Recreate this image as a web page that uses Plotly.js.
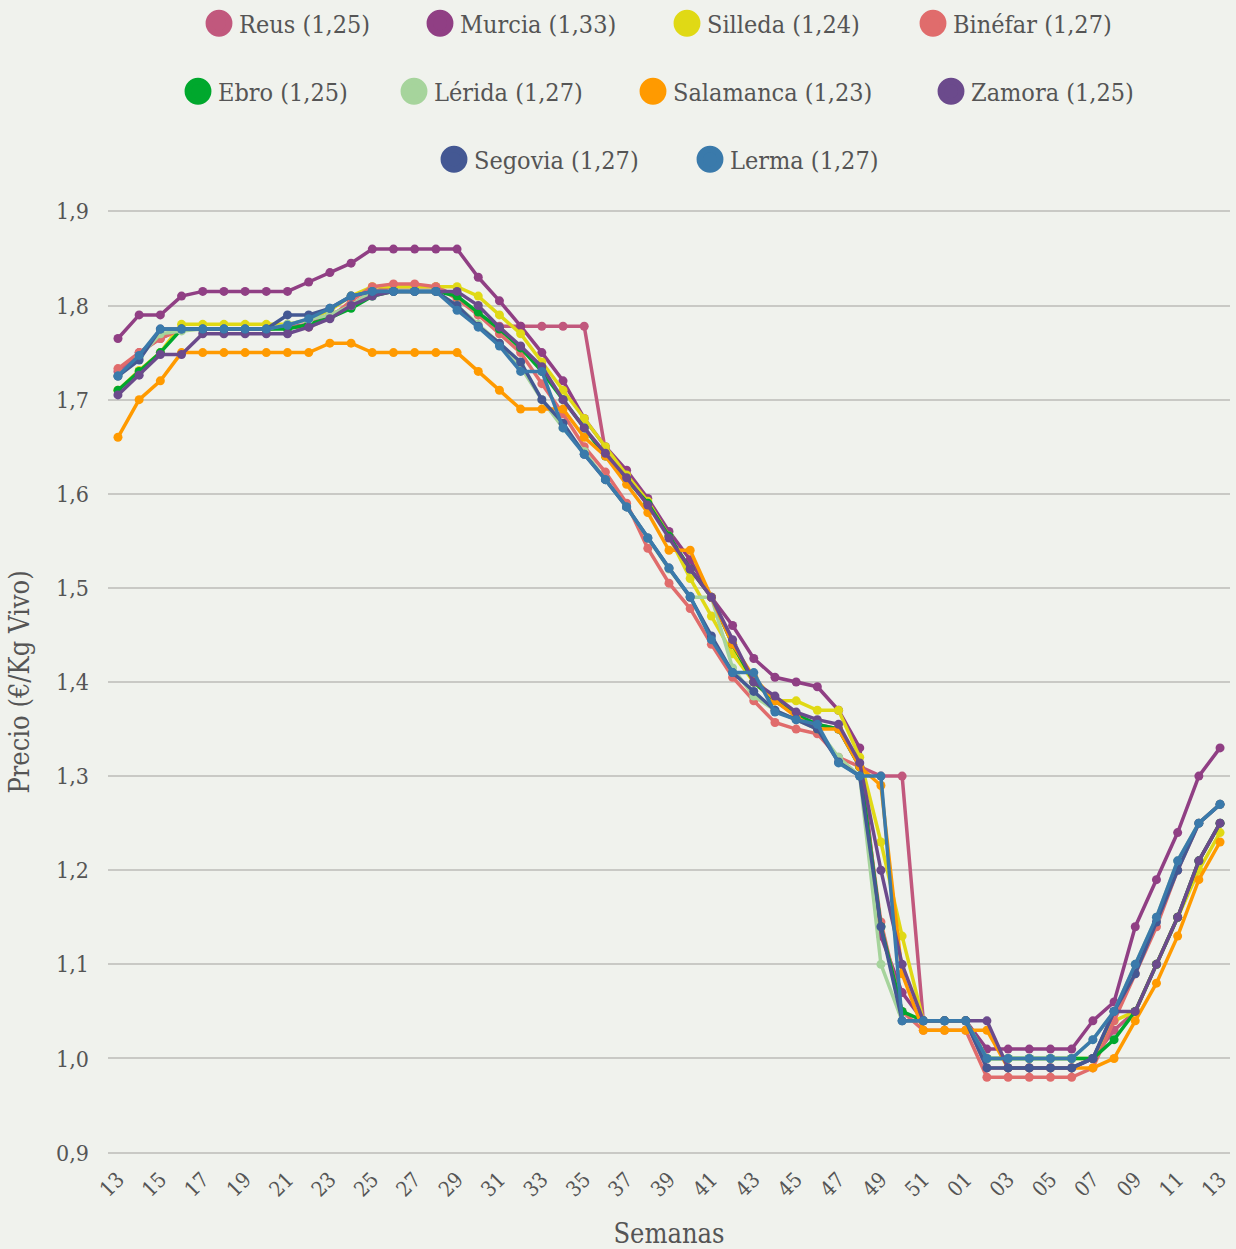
<!DOCTYPE html>
<html><head><meta charset="utf-8">
<script src="https://cdn.plot.ly/plotly-3.0.1.min.js"></script>
<style>html,body{margin:0;padding:0;background:#f0f2ed}</style>
</head><body><div id="chart" style="width:1236px;height:1249px"></div>
<script>
const weeks = ['13','14','15','16','17','18','19','20','21','22','23','24','25','26','27','28','29','30','31','32','33','34','35','36','37','38','39','40','41','42','43','44','45','46','47','48','49','50','51','52','01','02','03','04','05','06','07','08','09','10','11','12','13'];

const reus = [1.73,1.75,1.765,1.775,1.775,1.775,1.775,1.775,1.777,1.78,1.79,1.80,1.815,1.82,1.82,1.82,1.81,1.79,1.778,1.778,1.778,1.778,1.778,1.645,1.62,1.59,1.555,1.52,1.49,1.44,1.40,1.38,1.365,1.355,1.35,1.31,1.30,1.30,1.04,1.04,1.04,0.99,0.99,0.99,0.99,0.99,1.00,1.03,1.05,1.10,1.15,1.21,1.25];
const murcia = [1.765,1.79,1.79,1.81,1.815,1.815,1.815,1.815,1.815,1.825,1.835,1.845,1.86,1.86,1.86,1.86,1.86,1.83,1.805,1.778,1.75,1.72,1.68,1.65,1.625,1.595,1.56,1.53,1.49,1.46,1.425,1.405,1.40,1.395,1.37,1.33,1.13,1.07,1.04,1.04,1.04,1.01,1.01,1.01,1.01,1.01,1.04,1.06,1.14,1.19,1.24,1.30,1.33];
const silleda = [1.71,1.731,1.75,1.78,1.78,1.78,1.78,1.78,1.78,1.785,1.795,1.81,1.82,1.82,1.82,1.82,1.82,1.81,1.79,1.77,1.74,1.71,1.68,1.65,1.62,1.592,1.555,1.51,1.47,1.43,1.40,1.38,1.38,1.37,1.37,1.32,1.23,1.13,1.04,1.04,1.04,1.00,1.00,1.00,1.00,1.00,1.00,1.04,1.05,1.10,1.15,1.20,1.24];
const binefar = [1.733,1.75,1.765,1.775,1.775,1.775,1.775,1.775,1.777,1.777,1.787,1.805,1.82,1.823,1.823,1.82,1.807,1.79,1.77,1.75,1.717,1.685,1.65,1.623,1.59,1.542,1.505,1.478,1.44,1.405,1.38,1.357,1.35,1.345,1.32,1.31,1.145,1.05,1.03,1.03,1.03,0.98,0.98,0.98,0.98,0.98,0.99,1.04,1.09,1.14,1.20,1.25,1.27];
const ebro = [1.71,1.73,1.75,1.775,1.775,1.775,1.775,1.775,1.775,1.78,1.787,1.797,1.81,1.815,1.815,1.815,1.81,1.793,1.775,1.755,1.73,1.70,1.67,1.64,1.615,1.59,1.555,1.52,1.49,1.44,1.40,1.38,1.365,1.355,1.35,1.31,1.14,1.05,1.04,1.04,1.04,1.00,1.00,1.00,1.00,1.00,1.00,1.02,1.05,1.10,1.15,1.21,1.25];
const lerida = [1.725,1.745,1.77,1.773,1.775,1.775,1.775,1.775,1.78,1.785,1.79,1.80,1.815,1.815,1.815,1.815,1.80,1.78,1.76,1.735,1.70,1.67,1.645,1.615,1.586,1.553,1.52,1.49,1.49,1.415,1.385,1.37,1.36,1.35,1.32,1.30,1.10,1.04,1.04,1.04,1.04,1.00,1.00,1.00,1.00,1.00,1.02,1.05,1.10,1.15,1.21,1.25,1.27];
const salamanca = [1.66,1.70,1.72,1.75,1.75,1.75,1.75,1.75,1.75,1.75,1.76,1.76,1.75,1.75,1.75,1.75,1.75,1.73,1.71,1.69,1.69,1.69,1.66,1.64,1.61,1.58,1.54,1.54,1.49,1.44,1.405,1.38,1.363,1.35,1.35,1.31,1.29,1.09,1.03,1.03,1.03,1.03,0.99,0.99,0.99,0.99,0.99,1.00,1.04,1.08,1.13,1.19,1.23];
const zamora = [1.705,1.726,1.748,1.748,1.77,1.77,1.77,1.77,1.77,1.777,1.786,1.80,1.81,1.815,1.815,1.815,1.815,1.80,1.777,1.757,1.735,1.70,1.67,1.643,1.617,1.588,1.553,1.52,1.49,1.445,1.40,1.385,1.368,1.36,1.355,1.314,1.20,1.10,1.04,1.04,1.04,1.04,0.99,0.99,0.99,0.99,1.00,1.05,1.05,1.10,1.15,1.21,1.25];
const segovia = [1.725,1.742,1.775,1.775,1.775,1.775,1.775,1.775,1.79,1.79,1.797,1.81,1.815,1.815,1.815,1.815,1.80,1.778,1.76,1.74,1.70,1.675,1.642,1.615,1.586,1.553,1.521,1.49,1.449,1.41,1.39,1.37,1.36,1.35,1.315,1.30,1.14,1.04,1.04,1.04,1.04,0.99,0.99,0.99,0.99,0.99,1.00,1.05,1.09,1.145,1.20,1.25,1.27];
const lerma = [1.725,1.747,1.775,1.775,1.775,1.775,1.775,1.775,1.779,1.786,1.797,1.81,1.815,1.815,1.815,1.815,1.795,1.777,1.757,1.73,1.73,1.67,1.642,1.615,1.586,1.553,1.521,1.491,1.445,1.41,1.41,1.368,1.36,1.355,1.314,1.30,1.30,1.04,1.04,1.04,1.04,1.00,1.00,1.00,1.00,1.00,1.02,1.05,1.10,1.15,1.21,1.25,1.27];

const seriesNames = ['Reus (1,25)','Murcia (1,33)','Silleda (1,24)','Binéfar (1,27)','Ebro (1,25)','Lérida (1,27)','Salamanca (1,23)','Zamora (1,25)','Segovia (1,27)','Lerma (1,27)'];
const seriesValues = [reus, murcia, silleda, binefar, ebro, lerida, salamanca, zamora, segovia, lerma];
const seriesColors = ['#c1587d','#903f84','#e0d915','#e06c6c','#00a82d','#a6d49c','#ff9a00','#6b4a8c','#445893','#3a7aab'];

// legend entry placement (pixels from page left, row centre in pixels from top)
const legendLeftPx = [199, 420, 667, 913, 178, 394, 633, 931, 434, 690];
const legendRowPx = [23.5, 23.5, 23.5, 23.5, 91.5, 91.5, 91.5, 91.5, 159.5, 159.5];

const FONT = "'DejaVu Serif Condensed', 'DejaVu Serif', serif";
const W = 1236, H = 1249, ML = 108, MR = 6, MT = 202, MB = 87;
const plotW = W - ML - MR, plotH = H - MT - MB;

const xIdx = weeks.map((w, i) => i);
const tickIdx = xIdx.filter(i => i % 2 === 0);
const tickTxt = tickIdx.map(i => weeks[i]);

const traces = [];
seriesValues.forEach((vals, k) => {
  traces.push({
    type: 'scatter', mode: 'lines+markers', x: xIdx, y: vals, name: seriesNames[k],
    line: {color: seriesColors[k], width: 3.5},
    marker: {color: seriesColors[k], size: 9},
    showlegend: false, hoverinfo: 'x+y+name'
  });
});
seriesValues.forEach((vals, k) => {
  traces.push({
    type: 'scatter', mode: 'markers', x: [null], y: [null], name: seriesNames[k],
    marker: {color: seriesColors[k], size: 16, line: {color: seriesColors[k], width: 5}},
    legend: k === 0 ? 'legend' : 'legend' + (k + 1), showlegend: true
  });
});

const layout = {
  width: W, height: H,
  paper_bgcolor: '#f0f2ed', plot_bgcolor: '#f0f2ed',
  separators: ',.',
  margin: {l: ML, r: MR, t: MT, b: MB, autoexpand: false},
  font: {family: FONT, color: '#555555'},
  xaxis: {
    range: [-0.47, 52.47], tickmode: 'array', tickvals: tickIdx, ticktext: tickTxt,
    tickangle: -45, showgrid: false, zeroline: false, showline: false,
    tickfont: {family: FONT, size: 21, color: '#555555'},
    title: {text: 'Semanas', font: {family: FONT, size: 27, color: '#555555'}, standoff: 23}
  },
  yaxis: {
    range: [0.89, 1.91], tickmode: 'linear', tick0: 0.9, dtick: 0.1, tickformat: '.1f',
    showgrid: true, gridcolor: '#c9c9c5', gridwidth: 2, zeroline: false, showline: false,
    ticklabelstandoff: 18,
    tickfont: {family: FONT, size: 23, color: '#555555'},
    title: {text: 'Precio (€/Kg Vivo)', font: {family: FONT, size: 27, color: '#555555'}, standoff: 18}
  },
  showlegend: true
};
seriesNames.forEach((n, k) => {
  const key = k === 0 ? 'legend' : 'legend' + (k + 1);
  layout[key] = {
    orientation: 'h', xanchor: 'left', yanchor: 'middle',
    x: (legendLeftPx[k] - ML) / plotW,
    y: (H - MB - legendRowPx[k]) / plotH,
    font: {family: FONT, size: 25, color: '#555555'},
    bgcolor: 'rgba(0,0,0,0)', itemsizing: 'trace'
  };
});

Plotly.newPlot('chart', traces, layout, {displayModeBar: false, responsive: false}).then(gd => {
  gd.querySelectorAll('.legendpoints path.scatterpts').forEach(p => {
    const t = p.getAttribute('transform') || '';
    p.setAttribute('transform', t + ' scale(1.28)');
  });
});
</script>
</body></html>
